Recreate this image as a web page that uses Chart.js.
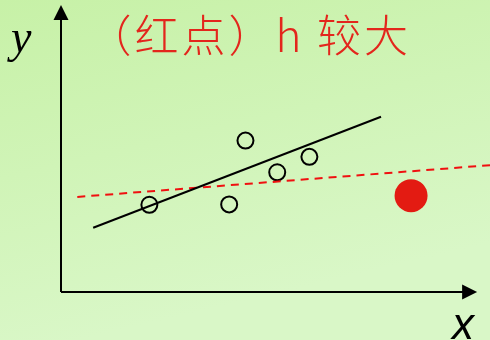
<!DOCTYPE html>
<html>
<head>
<meta charset="utf-8">
<script src="https://cdn.jsdelivr.net/npm/chart.js@4/dist/chart.umd.min.js"></script>
<style>
  body { margin: 0; background: #d4f5c0; }
  canvas { display: block; }
</style>
</head>
<body>
<canvas id="chart" width="490" height="340"></canvas>
<script>
// values (x: 0..10, y: 0..7 with origin at the axes corner)
var circleX = [2.06, 3.92, 4.30, 5.04, 5.79];
var circleY = [2.09, 2.10, 3.63, 2.87, 3.24];
var redDotX = [8.16];
var redDotY = [2.31];
var fitLineX = [0.75, 7.46];      // black line: fit without the red point
var fitLineY = [1.54, 4.20];
var dashLineX = [0.38, 10];       // red dashed: fit with the red point
var dashLineY = [2.28, 3.04];
var titleText = '（红点）h 较大';
var xLabel = 'x';
var yLabel = 'y';

function toPoints(xs, ys) {
    var pts = [];
    for (var i = 0; i < xs.length; i++) {
        pts.push({ x: xs[i], y: ys[i] });
    }
    return pts;
}

var sketchPlugin = {
    id: 'sketch',
    beforeDraw: function (chart) {
        var ctx = chart.ctx;
        var g = ctx.createLinearGradient(0, 0, 80, 340);
        g.addColorStop(0, 'rgb(199,241,167)');
        g.addColorStop(1, 'rgb(217,247,199)');
        ctx.save();
        ctx.fillStyle = g;
        ctx.fillRect(0, 0, chart.width, chart.height);
        ctx.restore();
    },
    beforeDatasetsDraw: function (chart) {
        var ctx = chart.ctx;
        var xs = chart.scales.x, ys = chart.scales.y;
        var x0 = xs.getPixelForValue(0), y0 = ys.getPixelForValue(0);
        var yTop = ys.getPixelForValue(6.88);
        var xEnd = xs.getPixelForValue(9.70);
        ctx.save();
        ctx.strokeStyle = '#000';
        ctx.fillStyle = '#000';
        ctx.lineWidth = 2;
        ctx.beginPath();
        ctx.moveTo(x0, y0);
        ctx.lineTo(x0, yTop + 14);
        ctx.moveTo(x0, y0);
        ctx.lineTo(xEnd - 14, y0);
        ctx.stroke();
        // arrow heads
        ctx.beginPath();
        ctx.moveTo(x0, yTop);
        ctx.lineTo(x0 - 7.5, yTop + 15);
        ctx.lineTo(x0 + 7.5, yTop + 15);
        ctx.closePath();
        ctx.fill();
        ctx.beginPath();
        ctx.moveTo(xEnd, y0);
        ctx.lineTo(xEnd - 15, y0 - 7.5);
        ctx.lineTo(xEnd - 15, y0 + 7.5);
        ctx.closePath();
        ctx.fill();
        ctx.restore();
    },
    afterDraw: function (chart) {
        var ctx = chart.ctx;
        ctx.save();
        ctx.fillStyle = '#e3261c';
        ctx.font = '300 44px "Noto Sans CJK SC"';
        ctx.letterSpacing = '3px';
        ctx.textAlign = 'right';
        ctx.textBaseline = 'alphabetic';
        ctx.fillText(titleText, 411, 52);
        ctx.letterSpacing = '0px';
        ctx.fillStyle = '#000';
        ctx.textAlign = 'left';
        ctx.font = 'italic 46px "Liberation Serif"';
        ctx.fillText(yLabel, 11, 52);
        ctx.font = 'italic 44px "Liberation Sans"';
        ctx.fillText(xLabel, 452, 339);
        ctx.restore();
    }
};

new Chart(document.getElementById('chart'), {
    type: 'scatter',
    data: {
        datasets: [{
                label: 'fit',
                data: toPoints(fitLineX, fitLineY),
                showLine: true,
                borderColor: '#000',
                borderWidth: 2,
                pointRadius: 0
            },
            {
                label: 'fit with red point',
                data: toPoints(dashLineX, dashLineY),
                showLine: true,
                borderColor: '#f01010',
                borderWidth: 2,
                borderDash: [8, 6],
                pointRadius: 0
            },
            {
                label: 'points',
                data: toPoints(circleX, circleY),
                pointStyle: 'circle',
                pointRadius: 8,
                borderColor: '#000',
                borderWidth: 2,
                backgroundColor: 'rgba(0,0,0,0)'
            },
            {
                label: 'red point',
                data: toPoints(redDotX, redDotY),
                pointStyle: 'circle',
                pointRadius: 16.5,
                borderWidth: 0,
                borderColor: '#e31b12',
                backgroundColor: '#e31b12'
            }
        ]
    },
    options: {
        responsive: false,
        animation: false,
        clip: false,
        layout: {
            autoPadding: false,
            padding: { left: 61, right: 0, top: 0, bottom: 48 }
        },
        plugins: {
            legend: { display: false },
            tooltip: { enabled: false },
            title: { display: false }
        },
        scales: {
            x: { type: 'linear', min: 0, max: 10, display: false },
            y: { type: 'linear', min: 0, max: 7, display: false }
        }
    },
    plugins: [sketchPlugin]
});
</script>
</body>
</html>
